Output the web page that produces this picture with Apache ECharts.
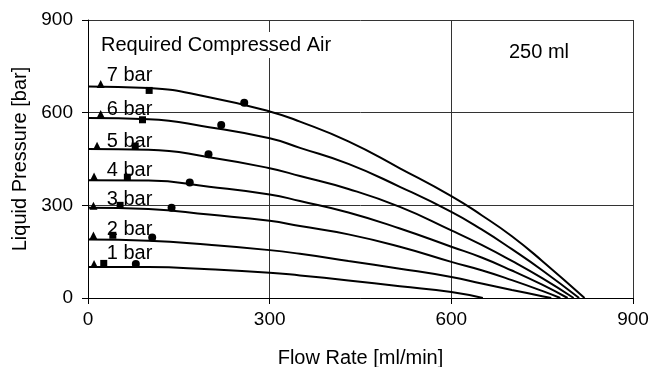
<!DOCTYPE html>
<html>
<head>
<meta charset="utf-8">
<script src="https://cdn.jsdelivr.net/npm/echarts@6/dist/echarts.min.js"></script>
<style>
  html, body { margin: 0; padding: 0; background: #fff; }
  #chart { width: 650px; height: 367px; }
</style>
</head>
<body>
<div id="chart"></div>
<script>
const flowRate = [0, 100, 200, 300, 350, 430, 515, 600, 650, 700, 750];
const p7 = [685, 680, 650, 604, 571, 507, 420, 330, 268, 200, 120];
const p6 = [583, 579, 553, 517, 486, 434, 360, 279, 222, 158, 90];
const p5 = [482, 480, 456, 420, 395, 353, 295, 219, 172, 120, 64];
const p4 = [381, 380, 360, 335, 314, 277, 225, 166, 131, 89, 43];
const p3 = [292, 288, 270, 250, 233, 206, 166, 117, 90, 58, 23];
const p2 = [189, 185, 172, 155, 143, 120, 95, 68, 47, 26, 6];
const p1 = [100, 100, 93, 82, 73, 57, 38, 19.5, null, null, null];
const zeroFlow = [820, 811, 802, 792, 780, 765, 652]; // 7 bar .. 1 bar

const seriesNames = ['7 bar', '6 bar', '5 bar', '4 bar', '3 bar', '2 bar', '1 bar'];
const labelY = [719, 610, 508, 412, 319, 221, 144];
const labelX = 31;

const triangles = [[21, 693], [21, 596], [15, 493], [10, 393], [9, 299], [9, 202], [10, 110]];
const squares = [[101, 672], [90, 577], [78, 492], [65, 391], [53, 300], [41, 203], [26, 112]];
const circles = [[258, 632], [220, 560], [199, 465], [168, 374], [138, 292], [106, 196], [79, 110]];

const xTicks = [0, 300, 600, 900];
const yTicks = [0, 300, 600, 900];

const FONT = '"Liberation Sans", Arial, sans-serif';
const curves = [p7, p6, p5, p4, p3, p2, p1];

function toPairs(values, end) {
  const out = [];
  values.forEach((v, i) => { if (v !== null) out.push([flowRate[i], v]); });
  out.push([end, 0]);
  return out;
}

const chart = echarts.init(document.getElementById('chart'), null, { renderer: 'canvas' });

const series = curves.map((vals, i) => ({
  name: seriesNames[i],
  type: 'line',
  data: toPairs(vals, zeroFlow[i]),
  smooth: 0.5,
  showSymbol: false,
  lineStyle: { color: '#000', width: 2 },
  z: 3
}));

const markerStyle = { color: '#000', opacity: 1 };
series.push({ type: 'scatter', data: triangles, symbol: 'triangle', symbolSize: 8, itemStyle: markerStyle, z: 4 });
series.push({ type: 'scatter', data: squares, symbol: 'rect', symbolSize: 7, itemStyle: markerStyle, z: 4 });
series.push({ type: 'scatter', data: circles, symbol: 'circle', symbolSize: 8, itemStyle: markerStyle, z: 4 });
series.push({
  type: 'scatter',
  data: labelY.map((y, i) => [labelX, y, seriesNames[i]]),
  symbolSize: 0,
  silent: true,
  itemStyle: { opacity: 1 },
  label: {
    show: true, position: 'right', distance: 0,
    formatter: p => p.data[2],
    color: '#000', fontSize: 20, fontFamily: FONT
  },
  z: 5
});

const option = {
  backgroundColor: '#fff',
  animation: false,
  title: [
    {
      text: 'Required Compressed Air', left: 98, top: 32,
      padding: [3, 3],
      backgroundColor: '#fff',
      textStyle: { color: '#000', fontSize: 20, fontWeight: 'normal', fontFamily: FONT }
    },
    {
      text: '250 ml', left: 509, top: 42, padding: 0,
      textStyle: { color: '#000', fontSize: 20, fontWeight: 'normal', fontFamily: FONT }
    }
  ],
  grid: { left: 88, right: 17, top: 20, bottom: 69, containLabel: false, outerBoundsMode: 'none' },
  xAxis: {
    type: 'value', min: 0, max: 900, interval: 300,
    name: 'Flow Rate [ml/min]', nameLocation: 'middle', nameGap: 50,
    nameTextStyle: { color: '#000', fontSize: 20, fontFamily: FONT },
    axisLine: { show: true, onZero: false, lineStyle: { color: '#000', width: 1 } },
    axisTick: { show: true, inside: false, length: 6, lineStyle: { color: '#000' } },
    axisLabel: {
      color: '#000', fontSize: 19, fontFamily: FONT, margin: 12,
      formatter: v => xTicks.includes(v) ? String(v) : ''
    },
    splitLine: { show: true, lineStyle: { color: '#333', width: 1 } }
  },
  yAxis: {
    type: 'value', min: 0, max: 900, interval: 300,
    name: 'Liquid Pressure [bar]', nameLocation: 'middle', nameGap: 56, nameRotate: 90,
    nameTextStyle: { color: '#000', fontSize: 20, fontFamily: FONT },
    axisLine: { show: true, onZero: false, lineStyle: { color: '#000', width: 1 } },
    axisTick: { show: true, inside: false, length: 6, lineStyle: { color: '#000' } },
    axisLabel: {
      color: '#000', fontSize: 19, fontFamily: FONT, margin: 15,
      formatter: v => yTicks.includes(v) ? String(v) : ''
    },
    splitLine: { show: true, lineStyle: { color: '#333', width: 1 } }
  },
  tooltip: { show: false },
  series: series
};

chart.setOption(option);
</script>
</body>
</html>
